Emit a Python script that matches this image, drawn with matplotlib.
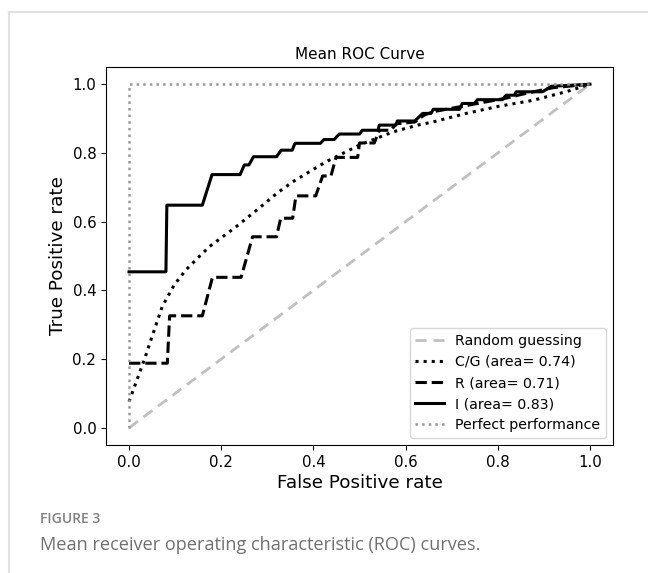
import numpy as np
import matplotlib.pyplot as plt
from matplotlib.lines import Line2D

# C/G curve (smooth mean ROC)
cg_fpr = [0.0, 0.033, 0.051, 0.072, 0.098, 0.123, 0.152, 0.174, 0.232, 0.282,
          0.322, 0.355, 0.427, 0.5, 0.572, 0.626, 0.659, 0.731, 0.803, 0.876, 0.948, 1.0]
cg_tpr = [0.076, 0.198, 0.27, 0.353, 0.416, 0.459, 0.498, 0.527, 0.585, 0.639,
          0.684, 0.716, 0.774, 0.823, 0.861, 0.881, 0.89, 0.915, 0.936, 0.953, 0.978, 1.0]

# R curve (stepped)
r_fpr = [0.0, 0.083, 0.088, 0.159, 0.181, 0.243, 0.268, 0.32, 0.329, 0.355,
         0.362, 0.405, 0.42, 0.438, 0.449, 0.496, 0.5, 0.532, 0.543, 0.568, 0.58,
         0.62, 0.64, 0.66, 0.72, 0.76, 0.82, 0.85, 0.92, 1.0]
r_tpr = [0.188, 0.188, 0.326, 0.326, 0.438, 0.438, 0.556, 0.556, 0.61, 0.61,
         0.675, 0.675, 0.733, 0.733, 0.787, 0.787, 0.829, 0.829, 0.866, 0.866, 0.885,
         0.89, 0.91, 0.92, 0.935, 0.945, 0.96, 0.97, 0.99, 1.0]

# I curve (stepped)
i_fpr = [0.0, 0.08, 0.082, 0.159, 0.18, 0.241, 0.25, 0.26, 0.27, 0.32, 0.33,
         0.354, 0.36, 0.415, 0.423, 0.445, 0.456, 0.5, 0.506, 0.54, 0.543, 0.579,
         0.582, 0.62, 0.637, 0.655, 0.66, 0.717, 0.723, 0.749, 0.756, 0.81, 0.818,
         0.836, 0.84, 0.897, 0.916, 1.0]
i_tpr = [0.454, 0.454, 0.648, 0.648, 0.737, 0.737, 0.765, 0.765, 0.789, 0.789,
         0.808, 0.808, 0.828, 0.828, 0.839, 0.839, 0.855, 0.855, 0.866, 0.866, 0.881,
         0.881, 0.893, 0.893, 0.915, 0.915, 0.927, 0.927, 0.944, 0.944, 0.955, 0.955,
         0.968, 0.968, 0.978, 0.978, 0.994, 1.0]

auc = {"C/G": 0.74, "R": 0.71, "I": 0.83}

fig = plt.figure(figsize=(6.48, 5.73), dpi=100)
ax = fig.add_axes([0.1636, 0.2234, 0.7824, 0.6596])

ax.plot([0, 1], [0, 1], linestyle='--', color='#c0c0c0', linewidth=2,
        dashes=(4, 2.5), label='Random guessing')
ax.plot(cg_fpr, cg_tpr, linestyle=':', color='black', linewidth=2.2,
        label='C/G (area= %0.2f)' % auc["C/G"])
ax.plot(r_fpr, r_tpr, linestyle='--', color='black', linewidth=2.2,
        label='R (area= %0.2f)' % auc["R"])
ax.plot(i_fpr, i_tpr, linestyle='-', color='black', linewidth=2.2,
        label='I (area= %0.2f)' % auc["I"])
ax.plot([0, 0, 1], [0, 1, 1], linestyle=':', color='#999999', linewidth=1.8,
        label='Perfect performance')

ax.set_xlim(-0.05, 1.05)
ax.set_ylim(-0.05, 1.05)
ax.set_xticks(np.arange(0, 1.01, 0.2))
ax.set_yticks(np.arange(0, 1.01, 0.2))
ax.tick_params(labelsize=10.8)
ax.set_xlabel('False Positive rate', fontsize=13.2, labelpad=3)
ax.set_ylabel('True Positive rate', fontsize=13.2)
ax.set_title('Mean ROC Curve', fontsize=11)
ax.legend(loc='lower right', fontsize=10.2)

# card border and caption
fig.add_artist(Line2D([9/648, 1], [1 - 12/573, 1 - 12/573], color='#e2e2e2', linewidth=1.5))
fig.add_artist(Line2D([9/648, 9/648], [0, 1 - 12/573], color='#e2e2e2', linewidth=1.5))
fig.text(40/648, 1 - 519/573, 'FIGURE 3', fontsize=10, color='#808080',
         fontfamily='Open Sans', fontweight='semibold', va='center')
fig.text(40/648, 1 - 545/573, 'Mean receiver operating characteristic (ROC) curves.',
         fontsize=13.1, color='#707070', fontfamily='Open Sans', va='center')

fig.savefig('out.png', dpi=100)
